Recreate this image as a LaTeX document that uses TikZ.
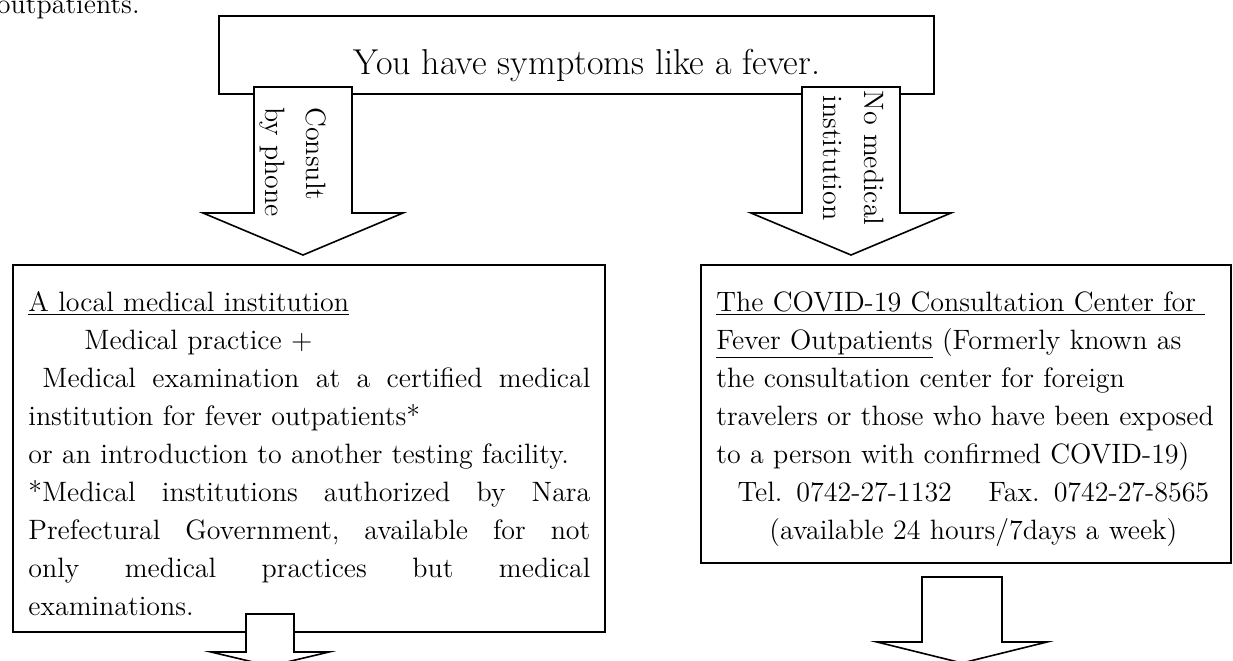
\documentclass[tikz,border=0pt]{standalone}
\usetikzlibrary{calc}
\newcommand\fullline[1]{\leavevmode\hbox to 281pt{#1}}
\newcommand\midline[1]{\makebox[257pt][c]{#1}}

\begin{document}
\begin{tikzpicture}[x=.5pt,y=-.5pt,
  box/.style={draw,line width=.8pt,inner sep=0,anchor=north west},
  blockarrow/.style={draw,fill=white,line width=.8pt},
  body/.style={inner sep=0,align=left,font=\fontsize{14}{19}\selectfont},
  side/.style={body,rotate=-90,font=\fontsize{14}{20.5}\selectfont}]
\useasboundingbox (0,0) rectangle (1233,660);

\node[inner sep=0,anchor=base east,font=\fontsize{14}{19}\selectfont] (outp) at (140,13) {outpatients.};

% the three boxes
\node[box,minimum width=357.5pt,minimum height=39pt] (fever) at (218,15) {};
\node[inner sep=0,anchor=base,font=\fontsize{18}{22}\selectfont] (feverlbl) at (587,74) {You have symptoms like a fever.};

\node[box,minimum width=296pt,minimum height=183.5pt] (local) at (12,264) {};
\node[body,anchor=north west,text width=281pt] (localtxt) at ($(local.north west)+(16,27)$) {%
\underline{A local medical institution}\\
\hspace*{2em}Medical practice +\\
\fullline{\hspace*{.5em}Medical\hfill examination\hfill at\hfill a\hfill certified\hfill medical}\\
institution for fever outpatients*\\
or an introduction to another testing facility.\\
\fullline{*Medical\hfill institutions\hfill authorized\hfill by\hfill Nara}\\
\fullline{Prefectural\hfill Government,\hfill available\hfill for\hfill not}\\
\fullline{only\hfill medical\hfill practices\hfill but\hfill medical}\\
examinations.};

\node[box,minimum width=265pt,minimum height=149pt] (center) at (700,264) {};
\node[body,anchor=north west,text width=257pt] (centertxt) at ($(center.north west)+(16,27)$) {%
\underline{The COVID-19 Consultation Center for\ }\\
\underline{Fever Outpatients} (Formerly known as\\
the consultation center for foreign\\
travelers or those who have been exposed\\
to a person with confirmed COVID-19)\\
\midline{Tel. 0742-27-1132\hspace{1.3em}Fax. 0742-27-8565}\\
\midline{(available 24 hours/7days a week)}};

% block arrows
\foreach \cx/\ty/\ny/\py/\sw/\hw in {303/87/213/255/49/100, 851/87/213/255/49/100, 270/614/652/666/24/59, 962/577/642/663/40/85}
  \draw[blockarrow] (\cx-\sw,\ty) -- (\cx+\sw,\ty) -- (\cx+\sw,\ny) -- (\cx+\hw,\ny) -- (\cx,\py) -- (\cx-\hw,\ny) -- (\cx-\sw,\ny) -- cycle;

\node[side,anchor=north west] (phone) at (327,107) {Consult\\by phone};
\node[side,anchor=north,align=center] (nomed) at (884,158) {No medical\\institution};
\end{tikzpicture}
\end{document}
